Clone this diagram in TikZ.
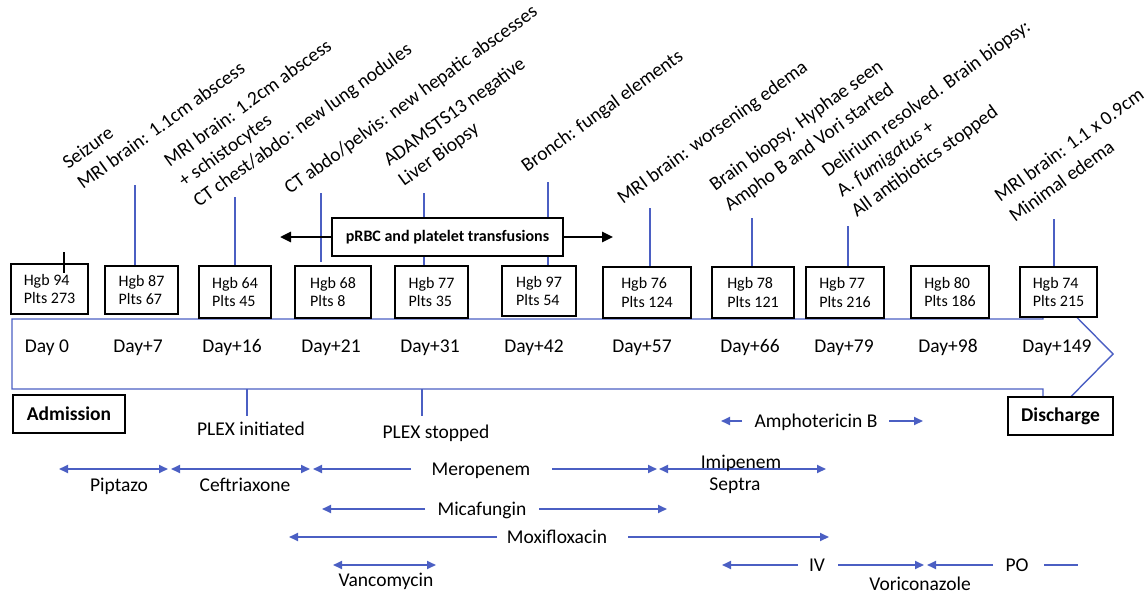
\documentclass[tikz,border=0pt]{standalone}
\usepackage{fontspec}
\setmainfont{Carlito}
\usetikzlibrary{arrows.meta}
\definecolor{blu}{RGB}{75,95,195}
\begin{document}
\begin{tikzpicture}[x=1pt,y=-1pt,
  every node/.style={inner sep=0pt},
  lab/.style={font=\fontsize{19.5}{25}\selectfont},
  toplab/.style={lab, rotate=36, anchor=base west, align=left},
  daylab/.style={lab, anchor=base},
  hb/.style={draw=black, line width=1.5pt, fill=white, align=left, font=\fontsize{16}{18.3}\selectfont},
  bbox/.style={draw=black, line width=1.5pt, fill=white, font=\fontsize{19.5}{23}\selectfont\bfseries},
  conn/.style={draw=blu, line width=1.4pt},
  drug/.style={draw=blu, line width=1.8pt},
  tipR/.style={-{Triangle[length=9pt,width=8pt]}},
  tipB/.style={{Triangle[length=9pt,width=8pt]}-{Triangle[length=9pt,width=8pt]}},
  blk/.style={draw=black, line width=2.6pt, -{Triangle[length=11pt,width=10pt]}}
]
\useasboundingbox (0,0) rectangle (1148,594);

% timeline arrow
\draw[conn] (12,319) -- (1043,319) -- (1043,283) -- (1113,354) -- (1043,425) -- (1043,389) -- (12,389) -- cycle;

% top connector start points
\coordinate (t1) at (135,185);
\coordinate (t2) at (235,197);
\coordinate (t3) at (321,193);
\coordinate (t4) at (424,193);
\coordinate (t5) at (548,182);
\coordinate (t6) at (650,208);
\coordinate (t7) at (752,218);
\coordinate (t8) at (848,226);
\coordinate (t9) at (1054,219);

% value boxes
\node[hb, minimum width=77pt, minimum height=50pt] (b1) at (49.5,289) {Hgb 94\\Plts 273};
\node[hb, minimum width=73pt, minimum height=48pt] (b2) at (141.5,290) {Hgb 87\\Plts 67};
\node[hb, minimum width=72pt, minimum height=52pt] (b3) at (235,292) {Hgb 64\\Plts 45};
\node[hb, minimum width=76pt, minimum height=52pt] (b4) at (333,292) {Hgb 68\\Plts 8};
\node[hb, minimum width=73pt, minimum height=52pt] (b5) at (431.5,292) {Hgb 77\\Plts 35};
\node[hb, minimum width=74pt, minimum height=50pt] (b6) at (539,291) {Hgb 97\\Plts 54};
\node[hb, minimum width=88pt, minimum height=51pt] (b7) at (647,292.5) {Hgb 76\\Plts 124};
\node[hb, minimum width=82pt, minimum height=51pt] (b8) at (753,292.5) {Hgb 78\\Plts 121};
\node[hb, minimum width=78pt, minimum height=51pt] (b9) at (845,292.5) {Hgb 77\\Plts 216};
\node[hb, minimum width=78pt, minimum height=52pt] (b10) at (950,292) {Hgb 80\\Plts 186};
\node[hb, minimum width=77pt, minimum height=50pt] (b11) at (1058.5,292) {Hgb 74\\Plts 215};

% connectors to boxes
\draw[conn] (t1) -- (t1 |- b2.north);
\draw[conn] (t2) -- (t2 |- b3.north);
\draw[conn] (t3) -- ([yshift=3pt]t3 |- b4.north);
\draw[conn] (t4) -- (t4 |- b5.north);
\draw[conn] (t5) -- (t5 |- b6.north);
\draw[conn] (t6) -- (t6 |- b7.north);
\draw[conn] (t7) -- (t7 |- b8.north);
\draw[conn] (t8) -- (t8 |- b9.north);
\draw[conn] (t9) -- (t9 |- b11.north);

% black tick at Day 0
\coordinate (k1) at (64,252);
\coordinate (k2) at (64,273);
\draw[black, line width=1.2pt] (k1) -- (k2);

% transfusion box and arrows
\node[draw=black, line width=1.5pt, fill=white, minimum width=231pt, minimum height=38pt,
      font=\fontsize{16}{19}\selectfont\bfseries] (pr) at (447.5,237) {pRBC and platelet transfusions};
\coordinate (prl) at (280,237);
\coordinate (prr) at (613,237);
\draw[blk] (pr.west) -- (prl);
\draw[blk] (pr.east) -- (prr);

% top labels
\node[toplab] (l1) at (83,190) {Seizure\\MRI brain: 1.1cm abscess};
\node[toplab] (l2) at (199,208) {MRI brain: 1.2cm abscess\\+ schistocytes\\CT chest/abdo: new lung nodules};
\node[toplab] (l3) at (290,195) {CT abdo/pelvis: new hepatic abscesses};
\node[toplab] (l4) at (404,187) {ADAMSTS13 negative\\Liver Biopsy};
\node[toplab] (l5) at (527,173) {Bronch: fungal elements};
\node[toplab] (l6) at (623,205) {MRI brain: worsening edema};
\node[toplab] (l7) at (730,212) {Brain biopsy. Hyphae seen\\Ampho B and Vori started};
\node[toplab] (l8) at (857,218) {Delirium resolved. Brain biopsy:\\A. \textit{fumigatus} +\\All antibiotics stopped};
\node[toplab] (l9) at (1015,223) {MRI brain: 1.1 x 0.9cm\\Minimal edema};

% day labels
\node[daylab] (d0) at (47,352) {Day 0};
\node[daylab] (d7) at (138,352) {Day+7};
\node[daylab] (d16) at (232,352) {Day+16};
\node[daylab] (d21) at (331,352) {Day+21};
\node[daylab] (d31) at (430,352) {Day+31};
\node[daylab] (d42) at (534,352) {Day+42};
\node[daylab] (d57) at (642,352) {Day+57};
\node[daylab] (d66) at (750,352) {Day+66};
\node[daylab] (d79) at (844,352) {Day+79};
\node[daylab] (d98) at (948,352) {Day+98};
\node[daylab] (d149) at (1057,352) {Day+149};

% admission / discharge
\node[bbox, minimum width=112pt, minimum height=38pt] (adm) at (69,414) {Admission};
\node[bbox, minimum width=105pt, minimum height=38pt] (dis) at (1060.5,416) {Discharge};

% PLEX
\node[daylab] (pxi) at (251,435) {PLEX initiated};
\node[daylab] (pxs) at (436,438) {PLEX stopped};
\coordinate (pi1) at (247,389);
\coordinate (pi2) at (247,416);
\coordinate (ps1) at (422,389);
\coordinate (ps2) at (422,416);
\draw[conn] (pi1) -- (pi2);
\draw[conn] (ps1) -- (ps2);

% Amphotericin B
\node[daylab] (amp) at (816,427.5) {Amphotericin B};
\coordinate (am1) at (742,421);
\coordinate (am2) at (721,421);
\coordinate (am3) at (889,421);
\coordinate (am4) at (923,421);
\draw[drug, tipR] (am1) -- (am2);
\draw[drug, tipR] (am3) -- (am4);

% row 1
\coordinate (p1) at (59,469);
\coordinate (p2) at (168,469);
\draw[drug, tipB] (p1) -- (p2);
\node[daylab] (pip) at (119,491) {Piptazo};
\coordinate (c1) at (171,469);
\coordinate (c2) at (310,469);
\draw[drug, tipB] (c1) -- (c2);
\node[daylab] (cef) at (245,491) {Ceftriaxone};
\node[daylab] (mer) at (481,475) {Meropenem};
\coordinate (m1) at (411,469);
\coordinate (m2) at (313,469);
\coordinate (m3) at (552,469);
\coordinate (m4) at (657,469);
\draw[drug, tipR] (m1) -- (m2);
\draw[drug, tipR] (m3) -- (m4);
\coordinate (i1) at (659,469);
\coordinate (i2) at (826,469);
\draw[drug, tipB] (i1) -- (i2);
\node[daylab] (imi) at (741,468) {Imipenem};
\node[daylab] (sep) at (735,490) {Septra};

% row 2
\node[daylab] (mic) at (482,515.5) {Micafungin};
\coordinate (mc1) at (425,509);
\coordinate (mc2) at (322,509);
\coordinate (mc3) at (539,509);
\coordinate (mc4) at (667,509);
\draw[drug, tipR] (mc1) -- (mc2);
\draw[drug, tipR] (mc3) -- (mc4);

% row 3
\node[daylab] (mox) at (557,543.5) {Moxifloxacin};
\coordinate (mx1) at (497,537);
\coordinate (mx2) at (289,537);
\coordinate (mx3) at (628,537);
\coordinate (mx4) at (829,537);
\draw[drug, tipR] (mx1) -- (mx2);
\draw[drug, tipR] (mx3) -- (mx4);

% row 4
\coordinate (v1) at (333,565);
\coordinate (v2) at (436,565);
\draw[drug, tipB] (v1) -- (v2);
\node[daylab] (van) at (386,586) {Vancomycin};
\node[daylab] (iv) at (817,571.5) {IV};
\coordinate (iv1) at (798,565);
\coordinate (iv2) at (722,565);
\coordinate (iv3) at (838,565);
\coordinate (iv4) at (924,565);
\draw[drug, tipR] (iv1) -- (iv2);
\draw[drug, tipR] (iv3) -- (iv4);
\node[daylab] (po) at (1017,571.5) {PO};
\coordinate (po1) at (993,565);
\coordinate (po2) at (927,565);
\coordinate (po3) at (1044,565);
\coordinate (po4) at (1078,565);
\draw[drug, tipR] (po1) -- (po2);
\draw[drug] (po3) -- (po4);
\node[daylab] (vor) at (920,590) {Voriconazole};
\end{tikzpicture}
\end{document}
